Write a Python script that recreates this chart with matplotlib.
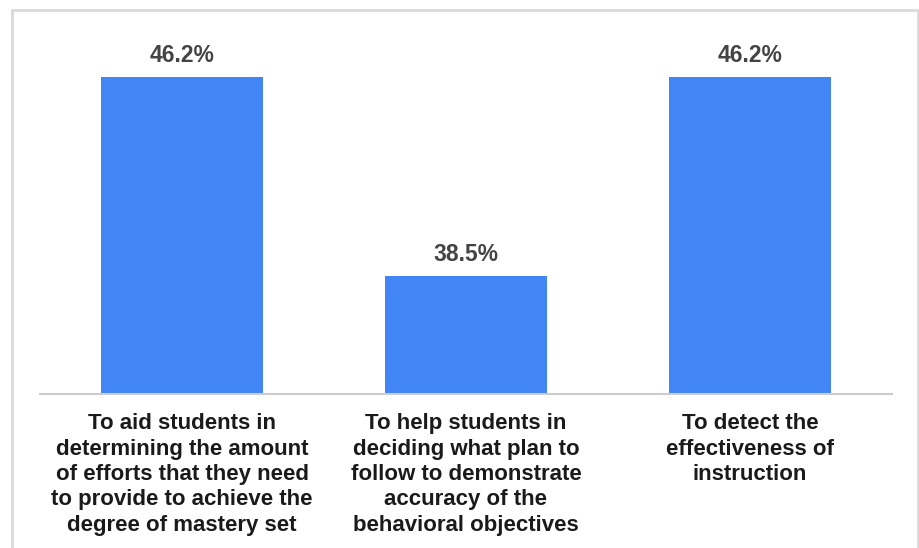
import matplotlib.pyplot as plt
from matplotlib.patches import Rectangle

# Purposes of the test and the share of respondents choosing each one
categories = [
    "To aid students in\ndetermining the amount\nof efforts that they need\nto provide to achieve the\ndegree of mastery set",
    "To help students in\ndeciding what plan to\nfollow to demonstrate\naccuracy of the\nbehavioral objectives",
    "To detect the\neffectiveness of\ninstruction",
]
percentages = [46.2, 38.5, 46.2]

plt.rcParams['font.family'] = ['Liberation Sans', 'DejaVu Sans']

fig = plt.figure(figsize=(9.19, 5.48), dpi=100)
ax = fig.add_axes([40 / 919, 1 - 394 / 548, 852 / 919, 369 / 548])

# Light frame around the chart area
fig.patches.append(Rectangle((12 / 919, -0.05), 906 / 919, 1.05 - 10 / 548,
                             transform=fig.transFigure, fill=False,
                             edgecolor='#d9d9d9', linewidth=2))

x = range(len(categories))
bars = ax.bar(x, percentages, width=0.57, color='#4285f4', zorder=2)

for bar, value in zip(bars, percentages):
    ax.annotate(f"{value}%", (bar.get_x() + bar.get_width() / 2, value),
                xytext=(0, 7), textcoords='offset points',
                ha='center', va='bottom', fontsize=16.5, fontweight='bold',
                color='#444444')

ax.set_xlim(-0.5, 2.5)
ax.set_ylim(33.94, 48.2)

ax.set_xticks(list(x))
ax.set_xticklabels(categories, fontsize=16, fontweight='bold', color='#1a1a1a',
                   linespacing=1.27)
ax.tick_params(axis='x', length=0, pad=14)
ax.set_yticks([])

for side in ['top', 'left', 'right']:
    ax.spines[side].set_visible(False)
ax.spines['bottom'].set_color('#cccccc')
ax.spines['bottom'].set_linewidth(1.5)

fig.savefig('out.png', dpi=100, facecolor='white')
